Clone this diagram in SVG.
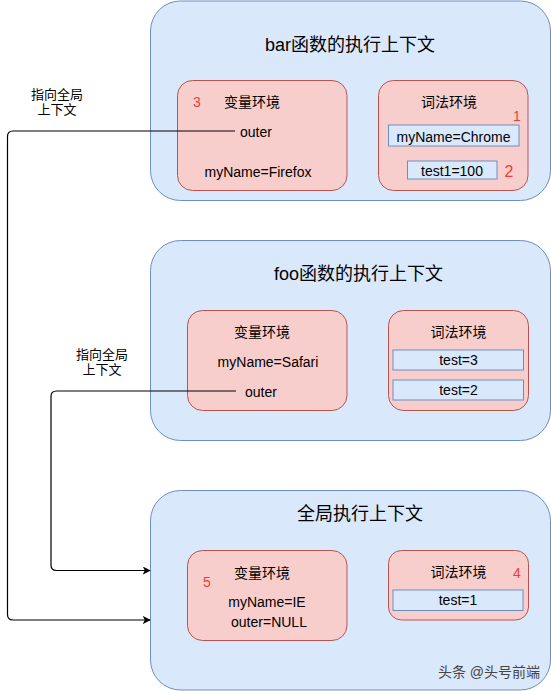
<svg xmlns="http://www.w3.org/2000/svg" width="551" height="691" viewBox="0 0 551 691">
<defs>
<style>
.ctx{fill:#dae8fc;stroke:#6c8ebf;stroke-width:1}
.env{fill:#f8cecc;stroke:#b85450;stroke-width:1}
.cell{fill:#dae8fc;stroke:#6c8ebf;stroke-width:1}
text{font-family:"Liberation Sans","Noto Sans CJK SC",sans-serif;fill:#000;text-anchor:middle}
.t{font-size:18px}
.b{font-size:14px}
.lb{font-size:13px}
.red{fill:#f03c3c;font-size:15px}
.wm{fill:#444;font-size:14px}
.line{fill:none;stroke:#000;stroke-width:1.2}
</style>
<marker id="arr" viewBox="0 0 10 10" refX="9" refY="5" markerWidth="8" markerHeight="8" markerUnits="userSpaceOnUse" orient="auto">
<path d="M0,0 L10,5 L0,10 L2.5,5 Z" fill="#000"/>
</marker>
</defs>
<rect width="551" height="691" fill="#fff"/>

<g id="bar-context">
<rect class="ctx" x="150.5" y="1" width="400" height="199.5" rx="30"/>
<text class="t" x="350" y="51">bar函数的执行上下文</text>
</g>
<g id="bar-var-env">
<rect class="env" x="177.5" y="80.5" width="169.5" height="110" rx="15"/>
<text class="red" x="197" y="107" style="font-size:14px">3</text>
<text class="b" x="252" y="106.5">变量环境</text>
<text class="b" x="256" y="136.5">outer</text>
<text class="b" x="258" y="176.5">myName=Firefox</text>
</g>
<g id="bar-lex-env">
<rect class="env" x="378.5" y="80.5" width="149.5" height="110" rx="15"/>
<text class="b" x="449" y="106.5">词法环境</text>
<text class="red" x="517" y="121" style="font-size:14px">1</text>
<rect class="cell" x="388.5" y="125" width="130.5" height="21"/>
<text class="b" x="453.5" y="141.5">myName=Chrome</text>
<rect class="cell" x="407.5" y="161" width="89.5" height="18"/>
<text class="b" x="452" y="175.5">test1=100</text>
<text class="red" x="509" y="176.5" style="font-size:16px">2</text>
</g>

<g id="foo-context">
<rect class="ctx" x="150.5" y="240.5" width="400" height="200" rx="30"/>
<text class="t" x="358.5" y="279.5">foo函数的执行上下文</text>
</g>
<g id="foo-var-env">
<rect class="env" x="187.5" y="310.5" width="159.5" height="100" rx="15"/>
<text class="b" x="262" y="336.5">变量环境</text>
<text class="b" x="268" y="366.5">myName=Safari</text>
<text class="b" x="261" y="396.5">outer</text>
</g>
<g id="foo-lex-env">
<rect class="env" x="388.5" y="310.5" width="140" height="100" rx="15"/>
<text class="b" x="458.5" y="336.5">词法环境</text>
<rect class="cell" x="393" y="350" width="130.5" height="20"/>
<text class="b" x="458.5" y="365">test=3</text>
<rect class="cell" x="393" y="380" width="130.5" height="20"/>
<text class="b" x="458.5" y="395">test=2</text>
</g>

<g id="global-context">
<rect class="ctx" x="150.5" y="490.5" width="400" height="199.5" rx="30"/>
<text class="t" x="360" y="519.5">全局执行上下文</text>
<text class="wm" x="489" y="676.5">头条 @头号前端</text>
</g>
<g id="global-var-env">
<rect class="env" x="187.5" y="550.5" width="159.5" height="90" rx="15"/>
<text class="b" x="262" y="577.5">变量环境</text>
<text class="red" x="207" y="587" style="font-size:14px">5</text>
<text class="b" x="267" y="606.5">myName=IE</text>
<text class="b" x="269" y="626.5">outer=NULL</text>
</g>
<g id="global-lex-env">
<rect class="env" x="388.5" y="550.5" width="140" height="69.5" rx="13"/>
<text class="b" x="458.5" y="577">词法环境</text>
<text class="red" x="517" y="577.5" style="font-size:14px">4</text>
<rect class="cell" x="393" y="590" width="130" height="20.5"/>
<text class="b" x="458" y="605">test=1</text>
</g>

<g id="labels">
<text class="lb" x="57" y="99">指向全局</text>
<text class="lb" x="57" y="114">上下文</text>
<text class="lb" x="102" y="359">指向全局</text>
<text class="lb" x="102" y="374">上下文</text>
</g>

<g id="connectors">
<path class="line" d="M235,131 H13 Q7.5,131 7.5,136.5 V614.5 Q7.5,620 13,620 H150" marker-end="url(#arr)"/>
<path class="line" d="M236,391 H56.5 Q51,391 51,396.5 V565 Q51,570.5 56.5,570.5 H150" marker-end="url(#arr)"/>
</g>
</svg>
